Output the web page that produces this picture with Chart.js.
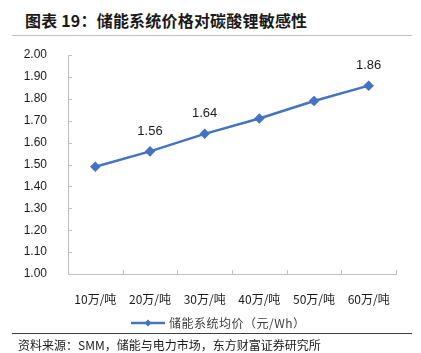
<!DOCTYPE html>
<html>
<head>
<meta charset="utf-8">
<script src="https://cdn.jsdelivr.net/npm/chart.js@4/dist/chart.umd.min.js"></script>
<style>
  body { margin: 0; background: #fff; }
  #wrap { position: relative; width: 421px; height: 353px; overflow: hidden; }
  #chart { position: absolute; left: 0; top: 0; }
  .title {
    position: absolute; left: 25px; top: 8px;
    font: bold 16px "Noto Sans CJK SC", sans-serif; letter-spacing: 0.2px; color: #1a1a1a;
    white-space: nowrap;
  }
  .rule { position: absolute; height: 1px; }
  .source {
    position: absolute; left: 18px; top: 336px;
    font: 12px "Noto Sans CJK SC", sans-serif; color: #1a1a1a; white-space: nowrap;
  }
</style>
</head>
<body>
<div id="wrap">
  <div class="title">图表 19：储能系统价格对碳酸锂敏感性</div>
  <div class="rule" style="left:12px; width:400px; top:35px; background:#c0c0c0;"></div>
  <canvas id="chart" width="421" height="353"></canvas>
  <div class="rule" style="left:12px; width:400px; top:333px; background:#404040;"></div>
  <div class="source">资料来源：SMM，储能与电力市场，东方财富证券研究所</div>
</div>
<script>
const categories = ['10万/吨', '20万/吨', '30万/吨', '40万/吨', '50万/吨', '60万/吨'];
const systemPrice = [1.49, 1.56, 1.64, 1.71, 1.79, 1.86];
const labelShown = [false, true, true, false, false, true];
const seriesName = '储能系统均价（元/Wh）';

const blue = '#4472C4';
const axisGray = '#bfbfbf';

// small inward tick marks on both axes
const innerTicks = {
    id: 'innerTicks',
    afterDraw(chart) {
        const ctx = chart.ctx;
        const x = chart.scales.x;
        const y = chart.scales.y;
        ctx.save();
        ctx.strokeStyle = axisGray;
        ctx.lineWidth = 1;
        ctx.beginPath();
        y.ticks.forEach(t => {
            const py = Math.round(y.getPixelForValue(t.value)) + 0.5;
            ctx.moveTo(y.right, py);
            ctx.lineTo(y.right + 4, py);
        });
        const step = x.getPixelForValue(1) - x.getPixelForValue(0);
        for (let i = 0; i <= categories.length; i++) {
            const px = Math.round(x.getPixelForValue(i) - step / 2) + 0.5;
            ctx.moveTo(px, x.top);
            ctx.lineTo(px, x.top - 4);
        }
        ctx.stroke();
        ctx.restore();
    }
};

// value labels above selected points
const valueLabels = {
    id: 'valueLabels',
    afterDatasetsDraw(chart) {
        const ctx = chart.ctx;
        const meta = chart.getDatasetMeta(0);
        ctx.save();
        ctx.font = '13px "Liberation Sans", Arial, sans-serif';
        ctx.fillStyle = '#1a1a1a';
        ctx.textAlign = 'center';
        ctx.textBaseline = 'middle';
        meta.data.forEach((pt, i) => {
            if (!labelShown[i]) return;
            ctx.fillText(systemPrice[i].toFixed(2), pt.x, pt.y - 20);
        });
        ctx.restore();
    }
};

// legend: line with diamond marker and text
const lineLegend = {
    id: 'lineLegend',
    afterDraw(chart) {
        const ctx = chart.ctx;
        const ly = 323;
        ctx.save();
        ctx.strokeStyle = blue;
        ctx.lineWidth = 2.5;
        ctx.beginPath();
        ctx.moveTo(131, ly);
        ctx.lineTo(165, ly);
        ctx.stroke();
        ctx.fillStyle = blue;
        ctx.beginPath();
        ctx.moveTo(148, ly - 3.5);
        ctx.lineTo(151.5, ly);
        ctx.lineTo(148, ly + 3.5);
        ctx.lineTo(144.5, ly);
        ctx.closePath();
        ctx.fill();
        ctx.font = '12px "Noto Sans CJK SC", sans-serif';
        ctx.fillStyle = '#404040';
        ctx.textBaseline = 'middle';
        ctx.letterSpacing = '0.5px';
        ctx.fillText(chart.data.datasets[0].label, 169, ly);
        ctx.restore();
    }
};

new Chart(document.getElementById('chart'), {
    type: 'line',
    data: {
        labels: categories,
        datasets: [{
            label: seriesName,
            data: systemPrice,
            borderColor: blue,
            backgroundColor: blue,
            borderWidth: 2.5,
            pointStyle: 'rectRot',
            pointRadius: 3.5,
            pointHoverRadius: 3.5,
            tension: 0
        }]
    },
    options: {
        responsive: false,
        animation: false,
        layout: { padding: { top: 55, right: 25, left: 0, bottom: 0 } },
        plugins: {
            legend: { display: false },
            tooltip: { enabled: false }
        },
        scales: {
            x: {
                offset: true,
                grid: { display: false },
                border: { color: axisGray },
                ticks: {
                    padding: 10,
                    color: '#1a1a1a',
                    font: { size: 12, family: '"Noto Sans CJK SC", sans-serif' }
                },
                afterFit(s) { s.height = 79; }
            },
            y: {
                min: 1,
                max: 2,
                grid: { display: false },
                border: { color: axisGray },
                ticks: {
                    stepSize: 0.1,
                    padding: 13,
                    color: '#1a1a1a',
                    font: { size: 12, family: '"Liberation Sans", Arial, sans-serif' },
                    callback: v => v.toFixed(2)
                },
                afterFit(s) { s.width = 68; }
            }
        }
    },
    plugins: [innerTicks, valueLabels, lineLegend]
});
</script>
</body>
</html>
